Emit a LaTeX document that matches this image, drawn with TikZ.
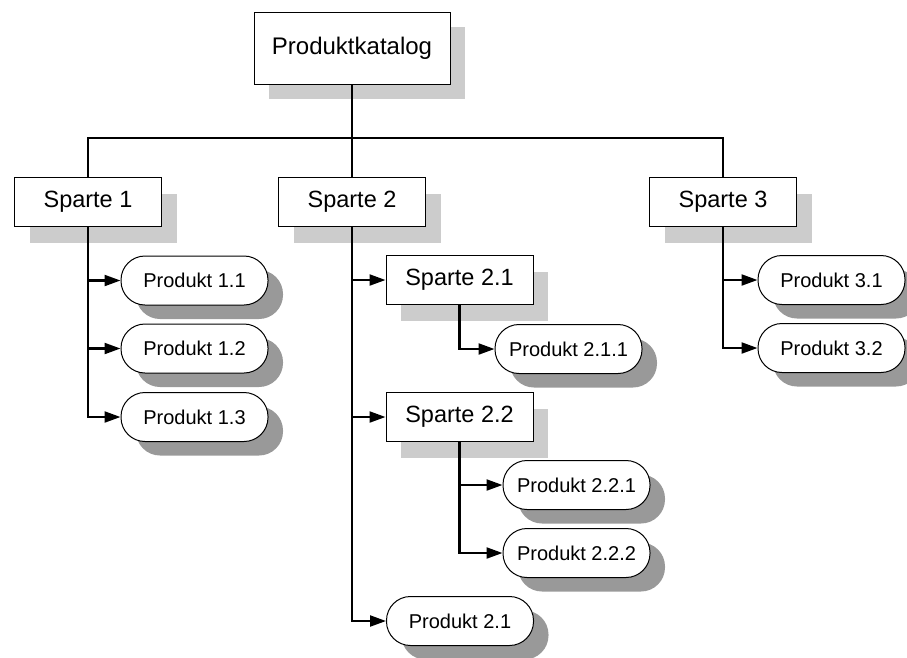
\documentclass[tikz,border=0pt]{standalone}
\usepackage{fontspec}
\setmainfont{Liberation Sans}
\usetikzlibrary{shadows,arrows.meta}
\definecolor{boxshade}{gray}{0.8}
\definecolor{pillshade}{gray}{0.6}
\tikzset{
  katbox/.style={draw=black, line width=1pt, fill=white, rectangle,
    minimum width=196pt, minimum height=72pt, inner sep=0pt,
    font=\fontsize{24}{28}\selectfont,
    drop shadow={shadow xshift=15pt, shadow yshift=-15pt, fill=boxshade, opacity=1}},
  divbox/.style={draw=black, line width=1pt, fill=white, rectangle,
    minimum width=147pt, minimum height=49pt, inner sep=0pt,
    font=\fontsize{23.5}{28}\selectfont,
    drop shadow={shadow xshift=15pt, shadow yshift=-16pt, fill=boxshade, opacity=1}},
  pill/.style={draw=black, line width=1pt, fill=white, rectangle,
    rounded corners=24pt, minimum width=147pt, minimum height=49pt, inner sep=0pt,
    font=\fontsize{20}{24}\selectfont,
    drop shadow={shadow xshift=15pt, shadow yshift=-14pt, fill=pillshade, opacity=1}},
  link/.style={line width=2.2pt, draw=black},
  feed/.style={link, -{Triangle[length=16pt, width=11pt]}}
}
\begin{document}
\begin{tikzpicture}[x=1pt, y=-1pt]
\useasboundingbox (0,0) rectangle (907,657);

% top level
\node[katbox] (kat) at (352,48) {Produktkatalog};

% divisions
\node[divbox] (s1) at (88,202) {Sparte 1};
\node[divbox] (s2) at (352,202) {Sparte 2};
\node[divbox] (s3) at (723,202) {Sparte 3};

% products of division 1
\node[pill] (p11) at (194.5,280.5) {Produkt 1.1};
\node[pill] (p12) at (194.5,348.5) {Produkt 1.2};
\node[pill] (p13) at (194.5,417) {Produkt 1.3};

% sub-divisions and products of division 2
\node[divbox] (s21) at (459.5,280) {Sparte 2.1};
\node[pill] (p211) at (568.5,349) {Produkt 2.1.1};
\node[divbox] (s22) at (459.5,417) {Sparte 2.2};
\node[pill] (p221) at (576.5,485) {Produkt 2.2.1};
\node[pill] (p222) at (576.5,553) {Produkt 2.2.2};
\node[pill] (p21) at (460,621) {Produkt 2.1};

% products of division 3
\node[pill] (p31) at (831.5,280) {Produkt 3.1};
\node[pill] (p32) at (831.5,348) {Produkt 3.2};

% bus below the catalogue
\coordinate (bus) at (352,138);
\draw[link] (kat.south) -- (bus);
\draw[link] (s1.north) |- (bus) -| (s3.north);
\draw[link] (bus) -- (s2.north);

% division 1 feeds
\draw[feed] (s1.south) |- (p13.west);
\draw[feed] (s1.south |- p11.west) -- (p11.west);
\draw[feed] (s1.south |- p12.west) -- (p12.west);

% division 2 feeds
\draw[feed] (s2.south) |- (p21.west);
\draw[feed] (s2.south |- s21.west) -- (s21.west);
\draw[feed] (s2.south |- s22.west) -- (s22.west);
\draw[feed] (s21.south) |- (p211.west);
\draw[feed] (s22.south) |- (p222.west);
\draw[feed] (s22.south |- p221.west) -- (p221.west);

% division 3 feeds
\draw[feed] (s3.south) |- (p32.west);
\draw[feed] (s3.south |- p31.west) -- (p31.west);
\end{tikzpicture}
\end{document}
